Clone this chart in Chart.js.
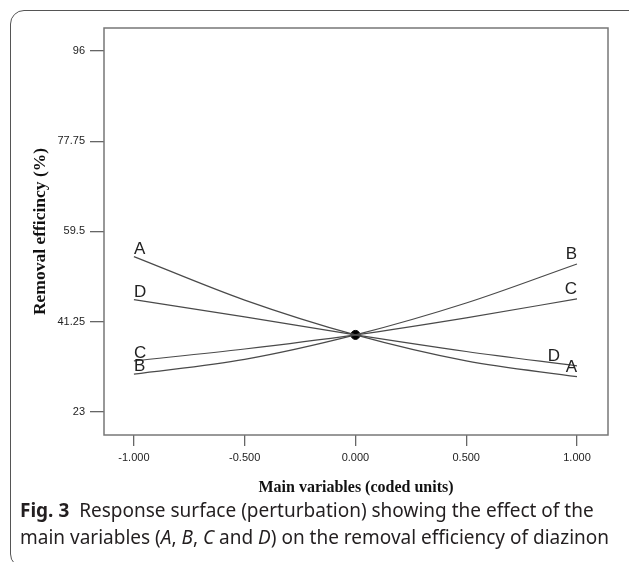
<!DOCTYPE html>
<html>
<head>
<meta charset="utf-8">
<script src="https://cdn.jsdelivr.net/npm/chart.js@4.4.1/dist/chart.umd.min.js"></script>
<style>
  html, body { margin: 0; padding: 0; background: #fff; }
  body { width: 629px; height: 562px; position: relative; overflow: hidden; }
  #frame { position: absolute; left: 10px; top: 10px; width: 700px; height: 558px;
           border: 1.5px solid #555; border-radius: 14px; box-sizing: border-box; }
  #c { position: absolute; left: 0; top: 0; }
  #caption { position: absolute; left: 20px; top: 497px; font-family: "Noto Sans", sans-serif;
             font-size: 19px; line-height: 27px; color: #231f20; white-space: nowrap; }
  #caption b { font-weight: 700; }
</style>
</head>
<body>
<div id="frame"></div>
<canvas id="c" width="629" height="510"></canvas>
<div id="caption"><b>Fig. 3</b>&nbsp; Response surface (perturbation) showing the effect of the<br>main variables (<i>A</i>, <i>B</i>, <i>C</i> and <i>D</i>) on the removal efficiency of diazinon</div>
<script>
// ---- data ----
const xValues = [-1, -0.5, 0, 0.5, 1];
const seriesNames = ["A", "B", "C", "D"];
const seriesA = [54.4, 45.6, 38.55, 33.3, 30.1];
const seriesB = [30.6, 33.6, 38.55, 45.0, 52.9];
const seriesC = [33.3, 35.7, 38.55, 42.0, 45.85];
const seriesD = [45.7, 42.2, 38.55, 35.2, 32.3];
const centerPoint = [{ x: 0, y: 38.55 }];
const xTicks = [-1, -0.5, 0, 0.5, 1];
const yTicks = [23, 41.25, 59.5, 77.75, 96];
const yTickLabels = ["23", "41.25", "59.5", "77.75", "96"];

const allSeries = [seriesA, seriesB, seriesC, seriesD];
const lineColor = "#4a4a4a";

const datasets = allSeries.map((vals, i) => ({
  label: seriesNames[i],
  data: vals.map((v, j) => ({ x: xValues[j], y: v })),
  borderColor: lineColor,
  borderWidth: 1.2,
  pointRadius: 0,
  cubicInterpolationMode: "monotone",
  fill: false
}));
datasets.push({
  label: "center",
  data: centerPoint,
  showLine: false,
  pointRadius: 4.5,
  pointBackgroundColor: "#000",
  pointBorderColor: "#000",
  pointBorderWidth: 1
});

// label offsets (style only): right-end label of D is shifted left to avoid A
const rightShift = { A: 0, B: 0, C: 0, D: -17 };

const labelPlugin = {
  id: "endLabels",
  afterDatasetsDraw(chart) {
    const ctx = chart.ctx;
    ctx.save();
    ctx.font = "17px 'Liberation Sans', Arial, sans-serif";
    ctx.fillStyle = "#222";
    ctx.textBaseline = "alphabetic";
    chart.data.datasets.forEach((ds, i) => {
      if (ds.label === "center") return;
      const meta = chart.getDatasetMeta(i);
      const p0 = meta.data[0];
      const p1 = meta.data[meta.data.length - 1];
      ctx.textAlign = "left";
      ctx.fillText(ds.label, p0.x, p0.y - 3);
      ctx.textAlign = "right";
      ctx.fillText(ds.label, p1.x + rightShift[ds.label], p1.y - 5);
    });
    ctx.restore();
  }
};

const framePlugin = {
  id: "frameBox",
  afterDraw(chart) {
    const { left, top, right, bottom } = chart.chartArea;
    const ctx = chart.ctx;
    ctx.save();
    ctx.strokeStyle = "#777";
    ctx.lineWidth = 1.5;
    ctx.strokeRect(left, top, right - left, bottom - top);
    ctx.restore();
  }
};

new Chart(document.getElementById("c"), {
  type: "line",
  data: { datasets },
  plugins: [labelPlugin, framePlugin],
  options: {
    responsive: false,
    animation: false,
    devicePixelRatio: 1,
    layout: { padding: { left: 0, top: 28, right: 21, bottom: 0 } },
    plugins: { legend: { display: false }, tooltip: { enabled: false } },
    scales: {
      x: {
        type: "linear",
        min: -1.135,
        max: 1.14,
        afterBuildTicks: (s) => { s.ticks = xTicks.map(v => ({ value: v })); },
        afterFit: (s) => { s.height = 75; },
        border: { display: false },
        grid: { drawOnChartArea: false, drawTicks: true, tickLength: 11, color: "#666", lineWidth: 1.3 },
        ticks: {
          padding: 5,
          color: "#222",
          font: { family: "'Liberation Sans', Arial, sans-serif", size: 11 },
          maxRotation: 0,
          callback: (v) => Number(v).toFixed(3)
        },
        title: {
          display: true,
          text: "Main variables (coded units)",
          color: "#111",
          font: { family: "'Liberation Serif', 'Times New Roman', serif", size: 16, weight: "bold" },
          padding: { top: 0, bottom: 13 }
        }
      },
      y: {
        type: "linear",
        min: 18.3,
        max: 100.65,
        afterBuildTicks: (s) => { s.ticks = yTicks.map(v => ({ value: v })); },
        afterFit: (s) => { s.width = 104; },
        border: { display: false },
        grid: { drawOnChartArea: false, drawTicks: true, tickLength: 14, color: "#666", lineWidth: 1.3 },
        ticks: {
          padding: 5,
          color: "#222",
          font: { family: "'Liberation Sans', Arial, sans-serif", size: 11 },
          callback: (v) => { const k = yTicks.indexOf(v); return k >= 0 ? yTickLabels[k] : v; }
        },
        title: {
          display: true,
          text: "Removal efficincy (%)",
          color: "#111",
          font: { family: "'Liberation Serif', 'Times New Roman', serif", size: 17.5, weight: "bold" },
          padding: { top: 30, bottom: 0 }
        }
      }
    }
  }
});
</script>
</body>
</html>
